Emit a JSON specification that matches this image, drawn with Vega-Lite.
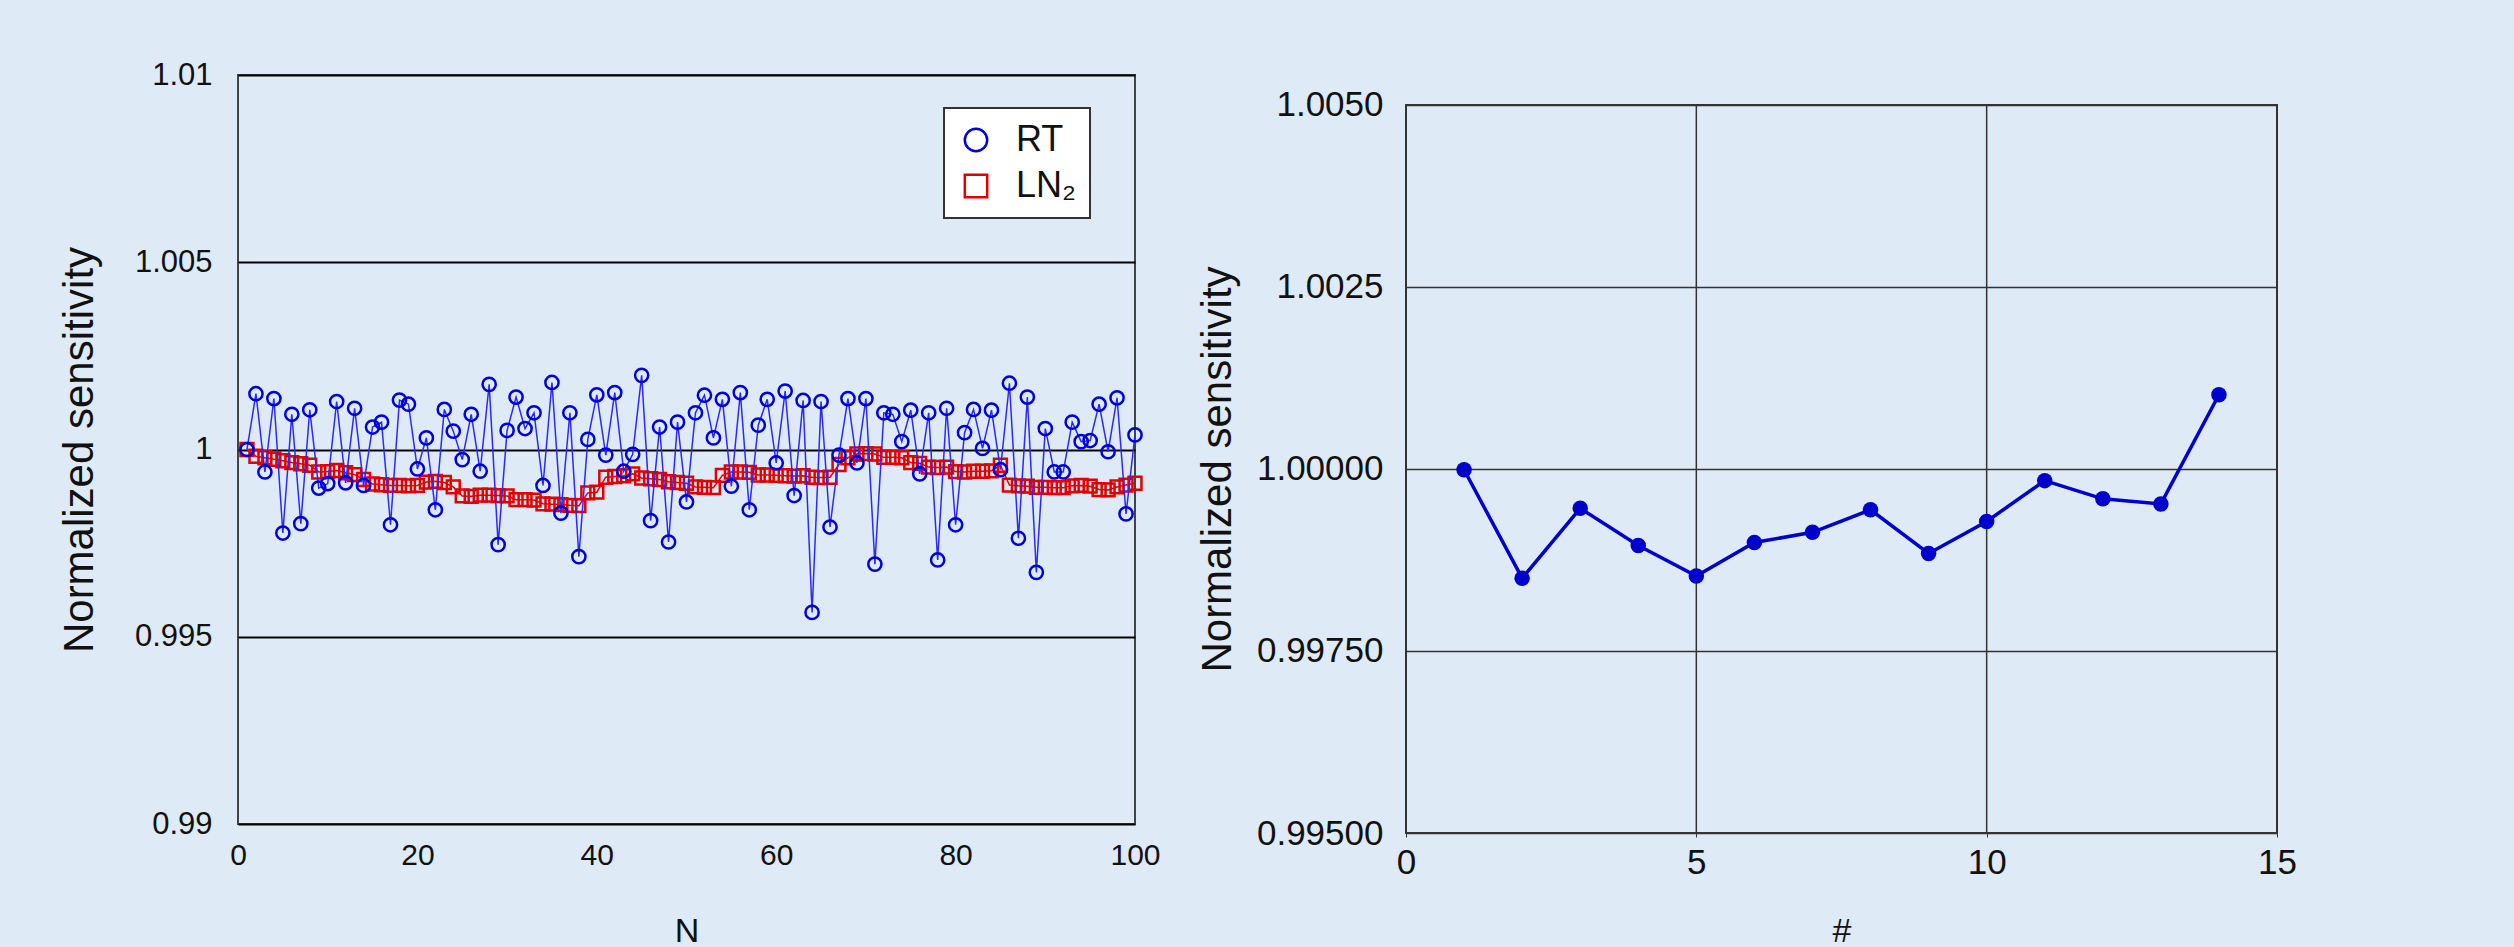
{
  "$schema": "https://vega.github.io/schema/vega-lite/v6.json",
  "background": "#deeaf6",
  "padding": {"left": 57, "top": 58, "right": 217, "bottom": 0},
  "spacing": 34,
  "config": {
    "font": "Liberation Sans",
    "view": {"stroke": "#444444", "strokeWidth": 2},
    "axis": {"labelFont": "Liberation Sans", "titleFont": "Liberation Sans", "labelColor": "#111111", "titleColor": "#111111", "titleFontWeight": "normal", "domain": false, "labelFlush": false},
    "legend": {"labelFont": "Liberation Sans", "labelFontSize": 36, "labelColor": "#111111", "fillColor": "#ffffff", "strokeColor": "#333333", "strokeWidth": 2, "padding": 14, "symbolSize": 500, "symbolStrokeWidth": 2.5, "rowPadding": 10, "labelOffset": 22}
  },
  "datasets": {
    "left": [
      {"N": 1, "RT": 1.00000, "LN2": 1.00000},
      {"N": 2, "RT": 1.00149, "LN2": 0.99982},
      {"N": 3, "RT": 0.99940, "LN2": 0.99978},
      {"N": 4, "RT": 1.00136, "LN2": 0.99974},
      {"N": 5, "RT": 0.99777, "LN2": 0.99970},
      {"N": 6, "RT": 1.00094, "LN2": 0.99965},
      {"N": 7, "RT": 0.99802, "LN2": 0.99962},
      {"N": 8, "RT": 1.00106, "LN2": 0.99958},
      {"N": 9, "RT": 0.99897, "LN2": 0.99940},
      {"N": 10, "RT": 0.99909, "LN2": 0.99941},
      {"N": 11, "RT": 1.00128, "LN2": 0.99944},
      {"N": 12, "RT": 0.99911, "LN2": 0.99938},
      {"N": 13, "RT": 1.00110, "LN2": 0.99933},
      {"N": 14, "RT": 0.99904, "LN2": 0.99920},
      {"N": 15, "RT": 1.00060, "LN2": 0.99908},
      {"N": 16, "RT": 1.00073, "LN2": 0.99906},
      {"N": 17, "RT": 0.99799, "LN2": 0.99904},
      {"N": 18, "RT": 1.00132, "LN2": 0.99904},
      {"N": 19, "RT": 1.00121, "LN2": 0.99903},
      {"N": 20, "RT": 0.99948, "LN2": 0.99904},
      {"N": 21, "RT": 1.00031, "LN2": 0.99913},
      {"N": 22, "RT": 0.99839, "LN2": 0.99915},
      {"N": 23, "RT": 1.00107, "LN2": 0.99912},
      {"N": 24, "RT": 1.00049, "LN2": 0.99900},
      {"N": 25, "RT": 0.99973, "LN2": 0.99876},
      {"N": 26, "RT": 1.00094, "LN2": 0.99875},
      {"N": 27, "RT": 0.99942, "LN2": 0.99878},
      {"N": 28, "RT": 1.00174, "LN2": 0.99878},
      {"N": 29, "RT": 0.99746, "LN2": 0.99877},
      {"N": 30, "RT": 1.00051, "LN2": 0.99876},
      {"N": 31, "RT": 1.00140, "LN2": 0.99866},
      {"N": 32, "RT": 1.00056, "LN2": 0.99866},
      {"N": 33, "RT": 1.00098, "LN2": 0.99865},
      {"N": 34, "RT": 0.99904, "LN2": 0.99855},
      {"N": 35, "RT": 1.00179, "LN2": 0.99854},
      {"N": 36, "RT": 0.99830, "LN2": 0.99853},
      {"N": 37, "RT": 1.00098, "LN2": 0.99851},
      {"N": 38, "RT": 0.99714, "LN2": 0.99850},
      {"N": 39, "RT": 1.00027, "LN2": 0.99884},
      {"N": 40, "RT": 1.00146, "LN2": 0.99886},
      {"N": 41, "RT": 0.99985, "LN2": 0.99926},
      {"N": 42, "RT": 1.00152, "LN2": 0.99928},
      {"N": 43, "RT": 0.99942, "LN2": 0.99930},
      {"N": 44, "RT": 0.99987, "LN2": 0.99935},
      {"N": 45, "RT": 1.00198, "LN2": 0.99924},
      {"N": 46, "RT": 0.99810, "LN2": 0.99922},
      {"N": 47, "RT": 1.00060, "LN2": 0.99920},
      {"N": 48, "RT": 0.99753, "LN2": 0.99914},
      {"N": 49, "RT": 1.00073, "LN2": 0.99912},
      {"N": 50, "RT": 0.99860, "LN2": 0.99910},
      {"N": 51, "RT": 1.00098, "LN2": 0.99900},
      {"N": 52, "RT": 1.00145, "LN2": 0.99899},
      {"N": 53, "RT": 1.00031, "LN2": 0.99898},
      {"N": 54, "RT": 1.00134, "LN2": 0.99931},
      {"N": 55, "RT": 0.99902, "LN2": 0.99940},
      {"N": 56, "RT": 1.00152, "LN2": 0.99940},
      {"N": 57, "RT": 0.99839, "LN2": 0.99939},
      {"N": 58, "RT": 1.00065, "LN2": 0.99932},
      {"N": 59, "RT": 1.00134, "LN2": 0.99932},
      {"N": 60, "RT": 0.99964, "LN2": 0.99931},
      {"N": 61, "RT": 1.00156, "LN2": 0.99930},
      {"N": 62, "RT": 0.99877, "LN2": 0.99929},
      {"N": 63, "RT": 1.00131, "LN2": 0.99930},
      {"N": 64, "RT": 0.99565, "LN2": 0.99926},
      {"N": 65, "RT": 1.00128, "LN2": 0.99925},
      {"N": 66, "RT": 0.99793, "LN2": 0.99926},
      {"N": 67, "RT": 0.99985, "LN2": 0.99960},
      {"N": 68, "RT": 1.00136, "LN2": 0.99978},
      {"N": 69, "RT": 0.99964, "LN2": 0.99988},
      {"N": 70, "RT": 1.00136, "LN2": 0.99989},
      {"N": 71, "RT": 0.99694, "LN2": 0.99988},
      {"N": 72, "RT": 1.00098, "LN2": 0.99979},
      {"N": 73, "RT": 1.00094, "LN2": 0.99979},
      {"N": 74, "RT": 1.00021, "LN2": 0.99978},
      {"N": 75, "RT": 1.00105, "LN2": 0.99965},
      {"N": 76, "RT": 0.99935, "LN2": 0.99963},
      {"N": 77, "RT": 1.00098, "LN2": 0.99953},
      {"N": 78, "RT": 0.99705, "LN2": 0.99952},
      {"N": 79, "RT": 1.00110, "LN2": 0.99953},
      {"N": 80, "RT": 0.99799, "LN2": 0.99941},
      {"N": 81, "RT": 1.00045, "LN2": 0.99940},
      {"N": 82, "RT": 1.00107, "LN2": 0.99942},
      {"N": 83, "RT": 1.00003, "LN2": 0.99942},
      {"N": 84, "RT": 1.00105, "LN2": 0.99943},
      {"N": 85, "RT": 0.99946, "LN2": 0.99958},
      {"N": 86, "RT": 1.00177, "LN2": 0.99905},
      {"N": 87, "RT": 0.99763, "LN2": 0.99903},
      {"N": 88, "RT": 1.00140, "LN2": 0.99902},
      {"N": 89, "RT": 0.99672, "LN2": 0.99899},
      {"N": 90, "RT": 1.00056, "LN2": 0.99899},
      {"N": 91, "RT": 0.99940, "LN2": 0.99898},
      {"N": 92, "RT": 0.99940, "LN2": 0.99898},
      {"N": 93, "RT": 1.00073, "LN2": 0.99903},
      {"N": 94, "RT": 1.00021, "LN2": 0.99904},
      {"N": 95, "RT": 1.00024, "LN2": 0.99902},
      {"N": 96, "RT": 1.00121, "LN2": 0.99893},
      {"N": 97, "RT": 0.99994, "LN2": 0.99892},
      {"N": 98, "RT": 1.00138, "LN2": 0.99900},
      {"N": 99, "RT": 0.99828, "LN2": 0.99905},
      {"N": 100, "RT": 1.00039, "LN2": 0.99910}
    ],
    "right": [
      {"run": 1, "sensitivity": 0.99999},
      {"run": 2, "sensitivity": 0.99850},
      {"run": 3, "sensitivity": 0.99946},
      {"run": 4, "sensitivity": 0.99895},
      {"run": 5, "sensitivity": 0.99853},
      {"run": 6, "sensitivity": 0.99899},
      {"run": 7, "sensitivity": 0.99913},
      {"run": 8, "sensitivity": 0.99944},
      {"run": 9, "sensitivity": 0.99884},
      {"run": 10, "sensitivity": 0.99928},
      {"run": 11, "sensitivity": 0.99984},
      {"run": 12, "sensitivity": 0.99959},
      {"run": 13, "sensitivity": 0.99952},
      {"run": 14, "sensitivity": 1.00102}
    ]
  },
  "hconcat": [
    {
      "width": 897,
      "height": 749,
      "data": {"name": "left"},
      "transform": [{"fold": ["RT", "LN2"], "as": ["series", "value"]}],
      "encoding": {
        "x": {"field": "N", "type": "quantitative", "scale": {"domain": [0, 100], "nice": false},
          "axis": {"values": [0, 20, 40, 60, 80, 100], "format": "d", "ticks": false, "grid": false, "labelFontSize": 30, "labelPadding": 16, "title": "N", "titleFontSize": 34, "titlePadding": 44}},
        "y": {"field": "value", "type": "quantitative", "scale": {"domain": [0.99, 1.01], "nice": false, "zero": false},
          "axis": {"values": [0.99, 0.995, 1, 1.005, 1.01], "format": "~g", "ticks": false, "labelFontSize": 31, "labelPadding": 26, "grid": true, "gridColor": "#000000", "gridWidth": 2, "gridOpacity": 1, "title": "Normalized sensitivity", "titleFontSize": 42, "titleAngle": -90, "titleX": -159, "titleY": 374.5, "titleAlign": "center", "titleBaseline": "middle"}}
      },
      "layer": [
        {"transform": [{"filter": "datum.series == 'LN2'"}], "mark": {"type": "line", "color": "#e00000", "strokeWidth": 1.5}, "encoding": {}},
        {"transform": [{"filter": "datum.series == 'LN2'"}], "mark": {"type": "point", "filled": false, "strokeWidth": 2.5, "size": 165, "opacity": 1},
          "encoding": {
            "color": {"field": "series", "type": "nominal", "scale": {"domain": ["RT", "LN2"], "range": ["#0000dd", "#e00000"]}, "legend": {"orient": "none", "legendX": 706, "legendY": 33, "title": null, "labelExpr": "datum.label == 'LN2' ? 'LN₂' : datum.label"}},
            "shape": {"field": "series", "type": "nominal", "scale": {"domain": ["RT", "LN2"], "range": ["circle", "square"]}, "legend": {"orient": "none", "legendX": 706, "legendY": 33, "title": null, "labelExpr": "datum.label == 'LN2' ? 'LN₂' : datum.label"}}
          }},
        {"transform": [{"filter": "datum.series == 'RT'"}], "mark": {"type": "line", "color": "#2a2aff", "strokeWidth": 1.5}, "encoding": {}},
        {"transform": [{"filter": "datum.series == 'RT'"}], "mark": {"type": "point", "filled": false, "strokeWidth": 2.5, "size": 175, "opacity": 1},
          "encoding": {
            "color": {"field": "series", "type": "nominal", "scale": {"domain": ["RT", "LN2"], "range": ["#0000dd", "#e00000"]}, "legend": {"orient": "none", "legendX": 706, "legendY": 33, "title": null, "labelExpr": "datum.label == 'LN2' ? 'LN₂' : datum.label"}},
            "shape": {"field": "series", "type": "nominal", "scale": {"domain": ["RT", "LN2"], "range": ["circle", "square"]}, "legend": {"orient": "none", "legendX": 706, "legendY": 33, "title": null, "labelExpr": "datum.label == 'LN2' ? 'LN₂' : datum.label"}}
          }}
      ]
    },
    {
      "width": 871,
      "height": 758,
      "view": {"stroke": null},
      "layer": [
        {
          "data": {"values": [{}]},
          "mark": {"type": "rect", "filled": false, "stroke": "#333333", "strokeWidth": 2},
          "encoding": {"x": {"datum": 0}, "x2": {"datum": 15}, "y": {"datum": 0.995}, "y2": {"datum": 1.005}}
        },
        {
          "data": {"values": [{}]},
          "mark": {"type": "rule", "color": "#333333", "strokeWidth": 1.5},
          "encoding": {"x": {"datum": 5}, "y": {"datum": 0.995}, "y2": {"datum": 1.005}}
        },
        {
          "data": {"values": [{}]},
          "mark": {"type": "rule", "color": "#333333", "strokeWidth": 1.5},
          "encoding": {"x": {"datum": 10}, "y": {"datum": 0.995}, "y2": {"datum": 1.005}}
        },
        {
          "data": {"name": "right"},
          "mark": {"type": "line", "color": "#0000cc", "strokeWidth": 3.5, "point": {"filled": true, "size": 240, "color": "#0000cc"}},
          "encoding": {
            "x": {"field": "run", "type": "quantitative", "scale": {"domain": [0, 15], "nice": false},
              "axis": {"values": [0, 5, 10, 15], "format": "d", "grid": false, "ticks": true, "tickSize": 4, "tickColor": "#333333", "labelFontSize": 35, "labelPadding": 8, "title": "#", "titleFontSize": 34, "titlePadding": 34}},
            "y": {"field": "sensitivity", "type": "quantitative", "scale": {"domain": [0.995, 1.005412], "nice": false, "zero": false},
              "axis": {"values": [0.995, 0.9975, 1, 1.0025, 1.005], "labelExpr": "datum.value > 1.002 ? format(datum.value, '.4f') : format(datum.value, '.5f')", "grid": true, "gridColor": "#333333", "gridWidth": 1.5, "gridOpacity": 1, "ticks": false, "labelFontSize": 35, "labelPadding": 23, "title": "Normalized sensitivity", "titleFontSize": 42, "titleAngle": -90, "titleX": -189, "titleY": 394, "titleAlign": "center", "titleBaseline": "middle"}}
          }
        }
      ]
    }
  ]
}
